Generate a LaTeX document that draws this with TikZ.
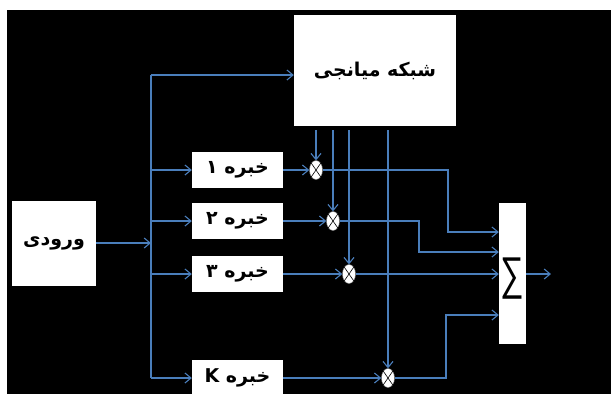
\documentclass[tikz,border=0pt]{standalone}
\usepackage{fontspec}
\TeXXeTstate=1
\newfontfamily\fa[Script=Arabic]{DejaVu Sans}
\newfontfamily\lsans{Liberation Sans}
\usetikzlibrary{arrows.meta,shapes.geometric}
\definecolor{ln}{RGB}{74,126,187}
\begin{document}
\begin{tikzpicture}[x=1pt,y=-1pt,
  wbox/.style={draw=none,fill=white,inner sep=0pt,font=\fa\bfseries\fontsize{19}{23}\selectfont},
  conn/.style={draw=ln,line width=1.1pt},
  arr/.style={conn,-{Straight Barb[length=6pt,width=10pt]}},
  mult/.style={ellipse,fill=white,draw=black!50,line width=0.4pt,minimum width=13pt,minimum height=19pt,inner sep=0pt},
  cross/.style={draw=black,line width=0.6pt}]
\fill[white] (0,0) rectangle (611,394);
\fill[black] (7,10) rectangle (611,394);
\useasboundingbox (0,0) rectangle (611,394);
\begin{scope}
\clip (0,0) rectangle (611,394);
% boxes
\node[wbox,minimum width=162pt,minimum height=111pt] (top) at (375,70.5) {\beginR شبکه میانجی\endR};
\node[wbox,minimum width=84pt,minimum height=85pt] (in) at (54,243) {\beginR ورودی\endR};
\node[wbox,minimum width=91pt,minimum height=36pt] (e1) at (237.5,170) {\beginR خبره ۱\endR};
\node[wbox,minimum width=91pt,minimum height=36pt] (e2) at (237.5,221) {\beginR خبره ۲\endR};
\node[wbox,minimum width=91pt,minimum height=36pt] (e3) at (237.5,274) {\beginR خبره ۳\endR};
\node[wbox,minimum width=91pt,minimum height=37pt] (eK) at (237.5,378) {\beginR خبره \beginL K\endL\endR};
\node[fill=white,minimum width=27pt,minimum height=141pt,inner sep=0pt] (sum) at (512.5,273.5) {};
\node[inner sep=0pt,font=\lsans\fontsize{46}{46}\selectfont] (sig) at (512.5,279) {\scalebox{0.72}[1]{∑}};
% multipliers
\node[mult] (m1) at (316,170) {};
\node[mult] (m2) at (333,221) {};
\node[mult] (m3) at (349,274) {};
\node[mult] (mK) at (388,378) {};
\foreach \m in {m1,m2,m3,mK}
  \draw[cross] (\m.north east) -- (\m.south west) (\m.north west) -- (\m.south east);
% bus
\coordinate (bt) at (151,75);
\coordinate (bus) at (151,0);
\draw[conn] (bt) -- (bus |- eK);
\draw[arr] (in.east) -- (in.east -| bus);
\draw[arr] (bt) -- (bt -| top.west);
\foreach \e in {e1,e2,e3,eK}
  \draw[arr] (bus |- \e) -- (\e.west);
% experts to multipliers
\draw[arr] (e1.east) -- (m1.west);
\draw[arr] (e2.east) -- (m2.west);
\draw[arr] (e3.east) -- (m3.west);
\draw[arr] (eK.east) -- (mK.west);
% gating lines
\coordinate (g1) at (316,130);
\coordinate (g2) at (333,130);
\coordinate (g3) at (349,130);
\coordinate (gK) at (388,130);
\draw[arr] (g1) -- (m1.north);
\draw[arr] (g2) -- (m2.north);
\draw[arr] (g3) -- (m3.north);
\draw[arr] (gK) -- (mK.north);
% to sum
\coordinate (s1) at (448,232);
\coordinate (s2) at (419,252);
\coordinate (sK) at (446,315);
\draw[arr] (m1.east) -- (m1.east -| s1) -- (s1) -- (s1 -| sum.west);
\draw[arr] (m2.east) -- (m2.east -| s2) -- (s2) -- (s2 -| sum.west);
\draw[arr] (m3.east) -- (m3.east -| sum.west);
\draw[arr] (mK.east) -- (mK.east -| sK) -- (sK) -- (sK -| sum.west);
\coordinate (out) at (551,274);
\draw[arr] (sum.east |- out) -- (out);
\end{scope}
\end{tikzpicture}
\end{document}
